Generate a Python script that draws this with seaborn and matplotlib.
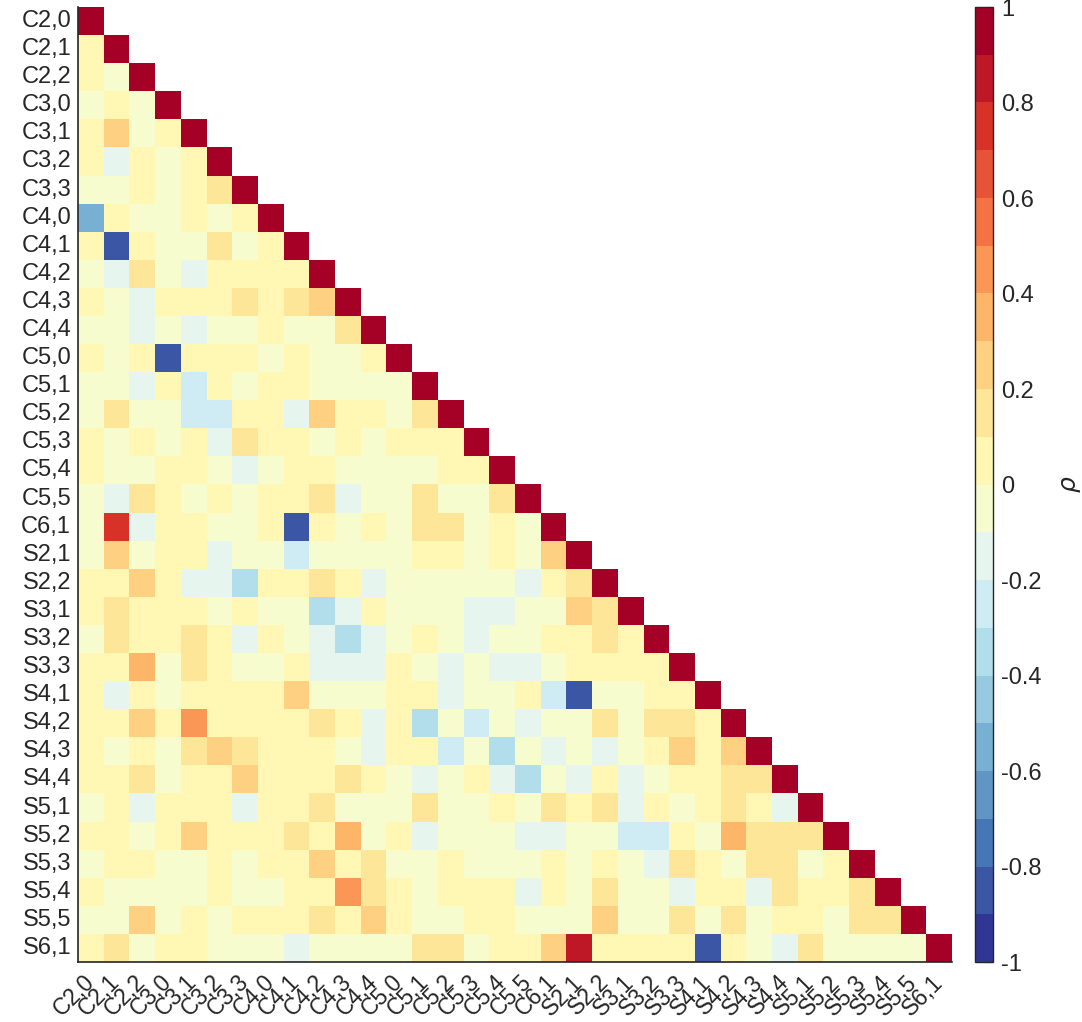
import numpy as np
import pandas as pd
import matplotlib
matplotlib.use("Agg")
import matplotlib.pyplot as plt
from matplotlib.colors import ListedColormap
import seaborn as sns

labels = ["C2,0", "C2,1", "C2,2", "C3,0", "C3,1", "C3,2", "C3,3", "C4,0", "C4,1",
          "C4,2", "C4,3", "C4,4", "C5,0", "C5,1", "C5,2", "C5,3", "C5,4", "C5,5",
          "C6,1", "S2,1", "S2,2", "S3,1", "S3,2", "S3,3", "S4,1", "S4,2", "S4,3",
          "S4,4", "S5,1", "S5,2", "S5,3", "S5,4", "S5,5", "S6,1"]

# lower-triangle correlations (row i, columns 0..i-1); diagonal = 1
rho_rows = [
    [],
    [.05],
    [.05, -.05],
    [-.05, .05, -.05],
    [.05, .25, -.05, .05],
    [.05, -.15, .05, -.05, .05],
    [-.05, -.05, .05, -.05, .05, .15],
    [-.55, .05, -.05, -.05, .05, -.05, .05],
    [.05, -.85, .05, -.05, -.05, .15, -.05, .05],
    [-.05, -.15, .15, -.05, -.15, .05, .05, .05, .05],
    [.05, -.05, -.15, .05, .05, .05, .15, .05, .15, .25],
    [-.05, -.05, -.15, -.05, -.15, -.05, -.05, .05, -.05, -.05, .15],
    [.05, -.05, .05, -.85, .05, .05, .05, -.05, .05, -.05, -.05, .05],
    [-.05, -.05, -.15, .05, -.25, .05, -.05, .05, .05, -.05, -.05, -.05, -.05],
    [-.05, .15, -.05, -.05, -.25, -.25, .05, .05, -.15, .25, .05, .05, -.05, .15],
    [.05, -.05, .05, -.05, .05, -.15, .15, .05, .05, -.05, .05, -.05, .05, .05, .05],
    [.05, -.05, -.05, .05, .05, -.05, -.15, -.05, .05, .05, -.05, -.05, -.05, -.05, .05, .05],
    [-.05, -.15, .15, .05, -.05, .05, -.05, .05, .05, .15, -.15, -.05, -.05, .15, -.05, -.05, .15],
    [-.05, .75, -.15, .05, .05, -.05, -.05, .05, -.85, .05, -.05, .05, -.05, .15, .15, -.05, .05, -.05],
    [-.05, .25, -.05, .05, .05, -.15, -.05, -.05, -.25, -.05, -.05, -.05, -.05, .05, .05, -.05, .05, -.05, .25],
    [.05, .05, .25, .05, -.15, -.15, -.35, .05, .05, .15, .05, -.15, -.05, -.05, -.05, -.05, -.05, -.15, .05, .15],
    [.05, .15, .05, .05, .05, -.05, .05, -.05, -.05, -.35, -.15, .05, -.05, -.05, -.05, -.15, -.15, -.05, -.05, .25, .15],
    [-.05, .15, .05, .05, .15, .05, -.15, .05, -.05, -.15, -.35, -.15, -.05, .05, -.05, -.15, -.05, -.05, .05, .05, .15, .05],
    [.05, .05, .35, -.05, .15, .05, -.05, -.05, .05, -.15, -.15, -.15, .05, -.05, -.15, -.05, -.15, -.15, -.05, .05, .05, .05, .05],
    [.05, -.15, .05, -.05, .05, .05, .05, .05, .25, -.05, -.05, -.05, .05, .05, -.15, -.05, -.05, .05, -.25, -.85, -.05, -.05, .05, .05],
    [.05, .05, .25, .05, .45, .05, .05, .05, .05, .15, .05, -.15, .05, -.35, -.05, -.25, -.05, -.15, -.05, -.05, .15, -.05, .15, .15, .05],
    [.05, -.05, .05, -.05, .15, .25, .15, .05, .05, .05, -.05, -.15, .05, .05, -.25, -.05, -.35, -.05, -.15, -.05, -.15, -.05, .05, .25, .05, .25],
    [.05, .05, .15, -.05, .05, .05, .25, .05, .05, .05, .15, .05, -.05, -.15, -.05, .05, -.15, -.35, -.05, -.15, .05, -.15, -.05, .05, .05, .15, .15],
    [-.05, .05, -.15, .05, .05, .05, -.15, .05, .05, .15, -.05, -.05, -.05, .15, -.05, -.05, .05, -.05, .15, .05, .15, -.15, .05, -.05, .05, .15, .05, -.15],
    [.05, .05, -.05, .05, .25, .05, .05, .05, .15, .05, .35, -.05, .05, -.15, -.05, -.05, -.05, -.15, -.15, -.05, -.05, -.25, -.25, .05, -.05, .35, .15, .15, .15],
    [-.05, .05, .05, -.05, -.05, .05, -.05, .05, .05, .25, .05, .15, -.05, -.05, .05, -.05, -.05, -.05, .05, -.05, .05, -.05, -.15, .15, .05, -.05, .15, .15, -.05, .05],
    [.05, -.05, -.05, -.05, -.05, .05, -.05, -.05, .05, .05, .45, .15, .05, -.05, .05, .05, .05, -.15, .05, -.05, .15, -.05, -.05, -.15, .05, .05, -.15, .15, .05, .05, .15],
    [-.05, -.05, .25, -.05, .05, -.05, .05, .05, .05, .15, .05, .25, .05, -.05, -.05, .05, .05, -.05, -.05, -.05, .25, -.05, -.05, .15, -.05, .15, -.05, .05, .05, -.05, .15, .15],
    [.05, .15, -.05, .05, .05, -.05, -.05, -.05, -.15, -.05, -.05, -.05, -.05, .15, .15, -.05, .05, .05, .25, .85, .05, .05, .05, .05, -.85, .05, -.05, -.15, .15, -.05, -.05, -.05, -.05],
]

n = len(labels)
mat = np.eye(n)
for i, row in enumerate(rho_rows):
    for j, v in enumerate(row):
        mat[i, j] = v
df = pd.DataFrame(mat, index=labels, columns=labels)
mask = np.triu(np.ones((n, n), dtype=bool), k=1)

sns.set_style("white")
plt.rcParams["font.family"] = ["Liberation Sans", "DejaVu Sans"]
txt = "#262626"

base = plt.get_cmap("RdYlBu_r")
cmap = ListedColormap([base(k / 19) for k in range(20)])

W, H = 1082, 1022
fig = plt.figure(figsize=(W / 100, H / 100), dpi=100)
ax = fig.add_axes([78 / W, 1 - 962 / H, 874 / W, 955 / H])
cax = fig.add_axes([975 / W, 1 - 962 / H, 18 / W, 955 / H])

sns.heatmap(df, mask=mask, cmap=cmap, vmin=-1, vmax=1, ax=ax, cbar_ax=cax,
            linewidths=0, square=False)

ax.set_xticks(np.arange(n) + 0.5)
ax.set_yticks(np.arange(n) + 0.5)
ax.set_xticklabels(labels, rotation=45, ha="right", va="center",
                   rotation_mode="anchor", fontsize=16.5, color=txt)
ax.set_yticklabels(labels, rotation=0, fontsize=17, color=txt)
ax.tick_params(axis="both", direction="in", length=6, width=1, color=txt, pad=5)
ax.tick_params(axis="x", pad=12)
for side in ["left", "bottom"]:
    ax.spines[side].set_visible(True)
    ax.spines[side].set_color(txt)
    ax.spines[side].set_linewidth(1.2)
for side in ["top", "right"]:
    ax.spines[side].set_visible(False)
ax.set_xlabel("")
ax.set_ylabel("")

cbar = ax.collections[0].colorbar
ticks = [-1, -0.8, -0.6, -0.4, -0.2, 0, 0.2, 0.4, 0.6, 0.8, 1]
cbar.set_ticks(ticks)
cbar.set_ticklabels([f"{t:g}" for t in ticks])
cbar.ax.tick_params(labelsize=17, direction="in", length=6, colors=txt, pad=6)
cbar.outline.set_visible(True)
cbar.outline.set_edgecolor(txt)
cbar.outline.set_linewidth(1)
cbar.set_label(r"$\rho$", fontsize=18, rotation=90, labelpad=12, color=txt)

fig.savefig("out.png", dpi=100)
